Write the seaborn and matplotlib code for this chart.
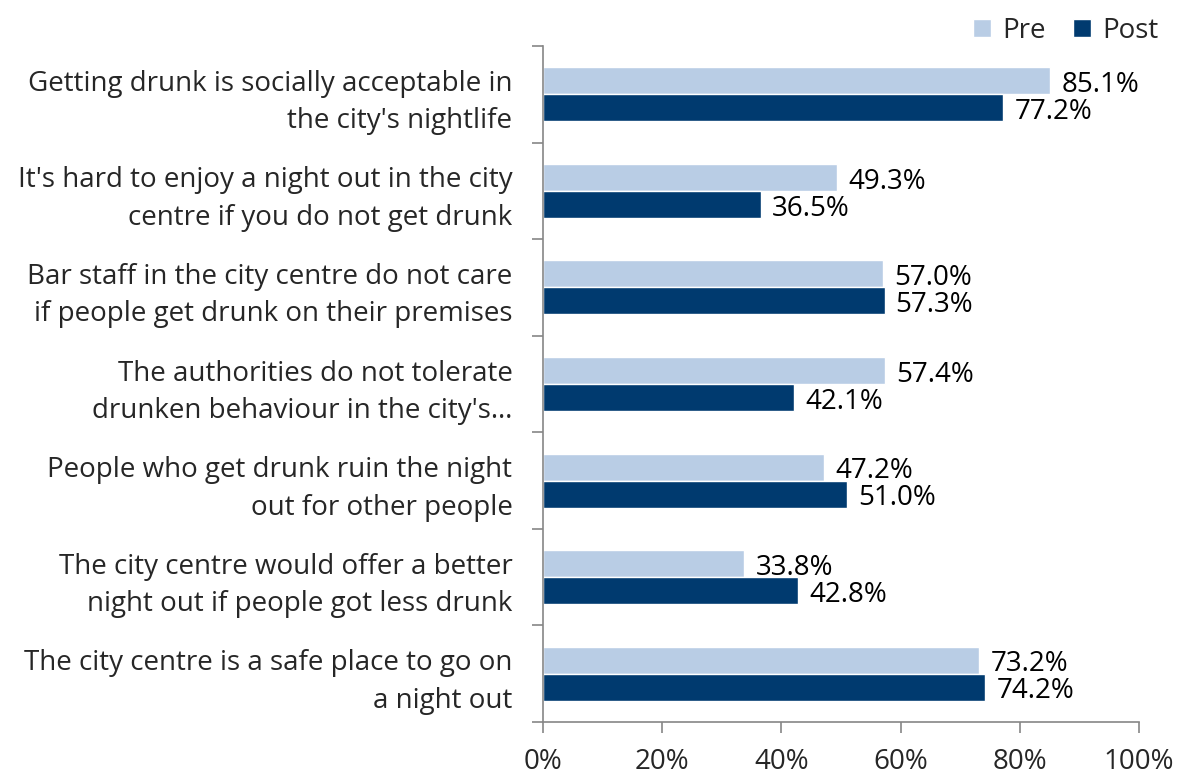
import matplotlib
matplotlib.use("Agg")
import matplotlib.pyplot as plt
import seaborn as sns
import pandas as pd
import numpy as np

categories = [
    "Getting drunk is socially acceptable in\nthe city's nightlife",
    "It's hard to enjoy a night out in the city\ncentre if you do not get drunk",
    "Bar staff in the city centre do not care\nif people get drunk on their premises",
    "The authorities do not tolerate\ndrunken behaviour in the city's\u2026",
    "People who get drunk ruin the night\nout for other people",
    "The city centre would offer a better\nnight out if people got less drunk",
    "The city centre is a safe place to go on\na night out",
]
pre = [85.1, 49.3, 57.0, 57.4, 47.2, 33.8, 73.2]
post = [77.2, 36.5, 57.3, 42.1, 51.0, 42.8, 74.2]
series = ["Pre", "Post"]
xticks = [0, 20, 40, 60, 80, 100]

sns.set_theme(style="white")
plt.rcParams['font.family'] = ['Open Sans', 'DejaVu Sans']

df = pd.DataFrame({
    "category": categories * 2,
    "value": pre + post,
    "series": ["Pre"] * len(categories) + ["Post"] * len(categories),
})

fig = plt.figure(figsize=(11.79, 7.76), dpi=100)
ax = fig.add_axes([0.4606, 0.0696, 0.5055, 0.8711])
palette = {"Pre": "#B9CDE5", "Post": "#003A6F"}
sns.barplot(data=df, y="category", x="value", hue="series", hue_order=series,
            order=categories, palette=palette, width=0.56, orient="h",
            ax=ax, saturation=1, legend=True)

fs = 20
for cont in ax.containers:
    anns = ax.bar_label(cont, labels=[f"{v:.1f}%" for v in cont.datavalues],
                        padding=8, fontsize=fs, color="black")
    for a in anns:
        a.xyann = (8, -3)

ax.set_xlim(0, 100)
ax.set_ylim(len(categories) - 0.5, -0.5)
ax.set_xticks(xticks)
ax.set_xticklabels([f"{t}%" for t in xticks], fontsize=fs)
ax.set_yticks(range(len(categories)))
ax.set_yticklabels(categories, fontsize=fs, ha="right", multialignment="right",
                   linespacing=1.45)
ax.set_yticks(np.arange(-0.5, len(categories), 1), minor=True)
ax.tick_params(axis="y", which="major", length=0, pad=22)
ax.tick_params(axis="y", which="minor", length=8, width=1.2, color="#868686", direction="out", left=True)
ax.tick_params(axis="x", which="major", length=8, width=1.2, color="#868686", direction="out", bottom=True, pad=11)
ax.set_xlabel("")
ax.set_ylabel("")
for s in ["top", "right"]:
    ax.spines[s].set_visible(False)
for s in ["left", "bottom"]:
    ax.spines[s].set_color("#868686")
    ax.spines[s].set_linewidth(1.2)
ax.grid(False)

handles, labels = ax.get_legend_handles_labels()
ax.legend(handles, labels, loc="upper right", bbox_to_anchor=(0.985, 0.982),
          bbox_transform=fig.transFigure,
          ncol=2, frameon=False, fontsize=fs, handlelength=0.65, handleheight=0.65,
          handletextpad=0.4, columnspacing=1.0, borderaxespad=0.0,
          borderpad=0.1)

fig.savefig("out.png", dpi=100)
